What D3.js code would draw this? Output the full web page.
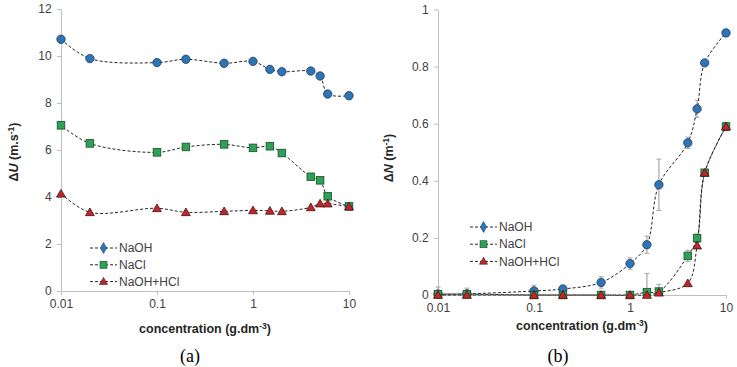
<!DOCTYPE html>
<html>
<head>
<meta charset="utf-8">
<script src="https://cdn.jsdelivr.net/npm/d3@7"></script>
<style>
  body { margin: 0; background: #fff; }
  svg { display: block; font-family: "Liberation Sans", Arial, sans-serif; }
  .axis path, .axis line { stroke: #bfbfbf; }
  .axis text { fill: #404040; font-size: 12px; }
</style>
</head>
<body>
<div id="chart"></div>
<script>
// Data
const conc = [0.01, 0.02, 0.1, 0.2, 0.5, 1, 1.5, 2, 4, 5, 6, 10];
const seriesNames = ["NaOH", "NaCl", "NaOH+HCl"];
const xTicks = [0.01, 0.1, 1, 10];

// panel (a): ΔU (m.s-1)
const uNaOH = [10.71, 9.89, 9.72, 9.86, 9.69, 9.77, 9.43, 9.33, 9.36, 9.15, 8.38, 8.31];
const uNaCl = [7.05, 6.28, 5.9, 6.13, 6.24, 6.09, 6.16, 5.87, 4.86, 4.71, 4.03, 3.6];
const uNaOHHCl = [4.14, 3.35, 3.52, 3.35, 3.39, 3.43, 3.41, 3.39, 3.56, 3.72, 3.72, 3.59];
const uTicks = [0, 2, 4, 6, 8, 10, 12];

// panel (b): ΔN (m-1) with error bars
const nNaOH = [0.003, 0.004, 0.014, 0.021, 0.044, 0.11, 0.176, 0.386, 0.533, 0.652, 0.813, 0.918];
const nNaOHErr = [0.025, 0.02, 0.02, 0.01, 0.02, 0.02, 0.03, 0.09, 0.02, 0.03, 0.01, 0.01];
const nNaCl = [0.003, 0.003, 0, 0, 0, 0, 0.01, 0.012, 0.137, 0.199, 0.428, 0.59];
const nNaClErr = [0.01, 0.01, 0.005, 0.005, 0.005, 0.005, 0.065, 0.025, 0.02, 0.015, 0.01, 0.015];
const nNaOHHCl = [0, 0, 0, 0, 0, 0, 0, 0.008, 0.041, 0.173, 0.428, 0.59];
const nTicks = [0, 0.2, 0.4, 0.6, 0.8, 1];

const colors = ["#2e75b6", "#2ca257", "#c0272d"];
const strokes = ["#1f3a5f", "#1e4d2b", "#4a1010"];

const svg = d3.select("#chart").append("svg").attr("width", 737).attr("height", 367);

function marker(g, i, x, y) {
  if (i === 0) {
    g.append("circle").attr("cx", x).attr("cy", y).attr("r", 4.2)
      .attr("fill", colors[0]).attr("stroke", strokes[0]).attr("stroke-width", 0.8);
  } else if (i === 1) {
    g.append("rect").attr("x", x - 3.8).attr("y", y - 3.8).attr("width", 7.6).attr("height", 7.6)
      .attr("fill", colors[1]).attr("stroke", strokes[1]).attr("stroke-width", 0.8);
  } else {
    g.append("path").attr("d", d3.symbol(d3.symbolTriangle, 34)())
      .attr("transform", `translate(${x},${y + 0.8})`)
      .attr("fill", colors[2]).attr("stroke", strokes[2]).attr("stroke-width", 0.8);
  }
}

function panel(cfg) {
  const g = svg.append("g");
  const x = d3.scaleLog().domain([0.01, 10]).range([cfg.left, cfg.right]);
  const y = d3.scaleLinear().domain(cfg.yDomain).range([cfg.bottom, cfg.top]);

  g.append("g").attr("class", "axis").attr("transform", `translate(0,${cfg.bottom})`)
    .call(d3.axisBottom(x).tickValues(xTicks).tickFormat(d3.format("~g")).tickSize(4).tickSizeOuter(0))
    .selectAll("text").attr("dy", "0.8em");

  g.append("g").attr("class", "axis").attr("transform", `translate(${cfg.left},0)`)
    .call(d3.axisLeft(y).tickValues(cfg.yTicks).tickFormat(d3.format("~g")).tickSize(4).tickSizeOuter(0))
    .selectAll("text").attr("dx", "-0.2em");

  // error bars
  if (cfg.errors) {
    cfg.series.forEach((s, i) => {
      if (!cfg.errors[i]) return;
      conc.forEach((c, k) => {
        const e = cfg.errors[i][k];
        const cx = x(c);
        const y0 = y(Math.max(0, s[k] - e)), y1 = y(s[k] + e);
        g.append("line").attr("x1", cx).attr("x2", cx).attr("y1", y0).attr("y2", y1)
          .attr("stroke", "#a6a6a6").attr("stroke-width", 1.2);
        [y0, y1].forEach(yy => g.append("line").attr("x1", cx - 2.5).attr("x2", cx + 2.5)
          .attr("y1", yy).attr("y2", yy).attr("stroke", "#a6a6a6").attr("stroke-width", 1));
      });
    });
  }

  const line = d3.line().x((d, k) => x(conc[k])).y(d => y(d)).curve(d3.curveCatmullRom.alpha(0.5));
  cfg.series.forEach((s, i) => {
    g.append("path").attr("d", line(s)).attr("fill", "none")
      .attr("stroke", "#262626").attr("stroke-width", 1)
      .attr("stroke-dasharray", "3,2").attr("stroke-dashoffset", i * 2.5);
  });
  cfg.series.forEach((s, i) => {
    s.forEach((v, k) => marker(g, i, x(conc[k]), y(v)));
  });

  // legend
  seriesNames.forEach((n, i) => {
    const ly = cfg.legY + i * cfg.legGap;
    g.append("line").attr("x1", cfg.legX).attr("x2", cfg.legX + 27).attr("y1", ly).attr("y2", ly)
      .attr("stroke", "#262626").attr("stroke-dasharray", "3,2");
    if (i === 0) {
      g.append("path").attr("d", d3.symbol(d3.symbolDiamond, 34)())
        .attr("transform", `translate(${cfg.legX + 13.5},${ly})`)
        .attr("fill", colors[0]).attr("stroke", strokes[0]).attr("stroke-width", 0.6);
    } else if (i === 1) {
      g.append("rect").attr("x", cfg.legX + 10).attr("y", ly - 3.5).attr("width", 7).attr("height", 7)
        .attr("fill", colors[1]).attr("stroke", strokes[1]).attr("stroke-width", 0.6);
    } else {
      g.append("path").attr("d", d3.symbol(d3.symbolTriangle, 28)())
        .attr("transform", `translate(${cfg.legX + 13.5},${ly + 0.5})`)
        .attr("fill", colors[2]).attr("stroke", strokes[2]).attr("stroke-width", 0.6);
    }
    g.append("text").attr("x", cfg.legX + 29).attr("y", ly + 4.2).attr("font-size", 12)
      .attr("fill", "#404040").text(n);
  });

  // axis titles
  g.append("text").attr("x", (cfg.left + cfg.right) / 2).attr("y", cfg.xTitleY)
    .attr("text-anchor", "middle").attr("font-size", 12.5).attr("font-weight", "bold").attr("fill", "#262626")
    .html("concentration (g.dm<tspan dy='-4' font-size='8.5'>-3</tspan><tspan dy='4'>)</tspan>");

  g.append("text").attr("transform", `translate(${cfg.yTitleX},${cfg.yTitleY}) rotate(-90)`)
    .attr("text-anchor", "middle").attr("font-size", 12.5).attr("font-weight", "bold").attr("fill", "#262626")
    .html(cfg.yTitle);

  g.append("text").attr("x", cfg.labelX).attr("y", 362).attr("text-anchor", "middle")
    .attr("font-family", "Liberation Serif, Times New Roman, serif").attr("font-size", 18)
    .attr("fill", "#000").text(cfg.label);
}

panel({
  left: 61, right: 349, top: 9, bottom: 291,
  yDomain: [0, 12], yTicks: uTicks,
  series: [uNaOH, uNaCl, uNaOHHCl],
  legX: 90, legY: 248, legGap: 16.8,
  xTitleY: 333, yTitleX: 18, yTitleY: 152,
  yTitle: "Δ<tspan font-style='italic'>U</tspan> (m.s<tspan dy='-4' font-size='8.5'>-1</tspan><tspan dy='4'>)</tspan>",
  labelX: 190, label: "(a)"
});

panel({
  left: 438, right: 726, top: 9.5, bottom: 295,
  yDomain: [0, 1], yTicks: nTicks,
  series: [nNaOH, nNaCl, nNaOHHCl],
  errors: [nNaOHErr, nNaClErr, null],
  legX: 470, legY: 227, legGap: 17.2,
  xTitleY: 330, yTitleX: 393, yTitleY: 158,
  yTitle: "Δ<tspan font-style='italic'>N</tspan> (m<tspan dy='-4' font-size='8.5'>-1</tspan><tspan dy='4'>)</tspan>",
  labelX: 558, label: "(b)"
});
</script>
</body>
</html>
